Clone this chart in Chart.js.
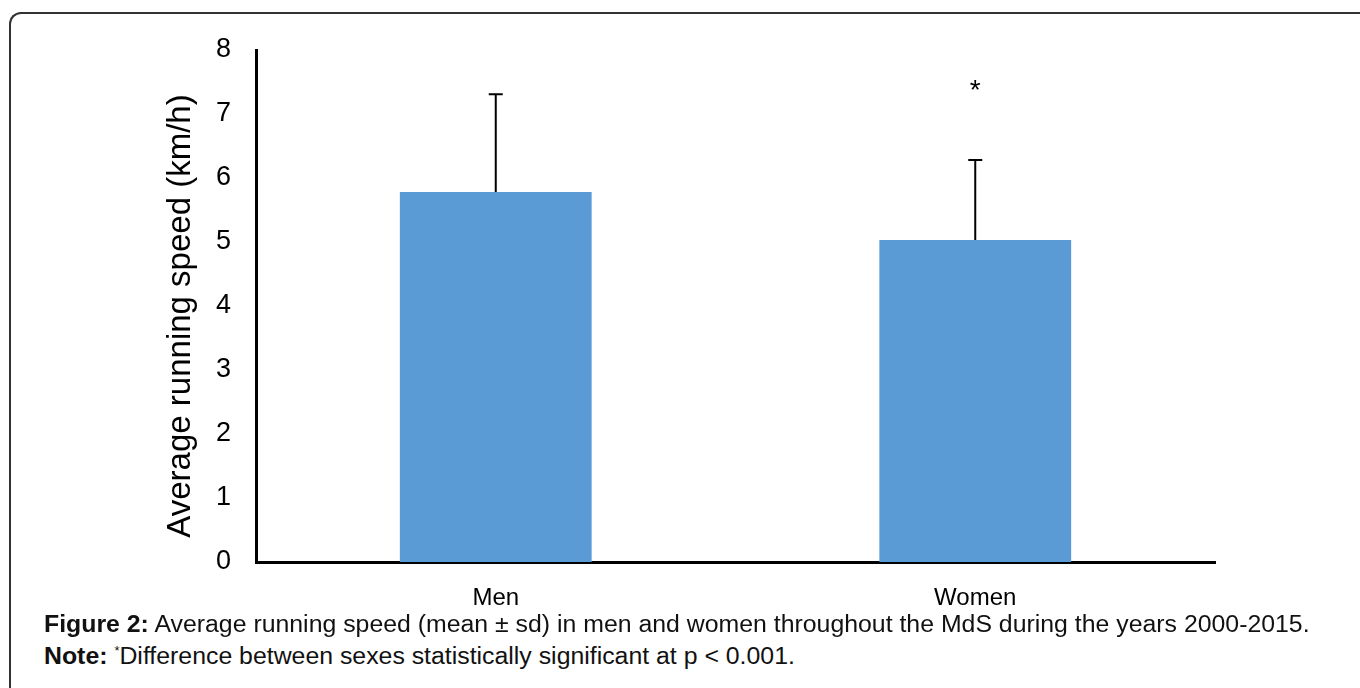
<!DOCTYPE html>
<html>
<head>
<meta charset="utf-8">
<script src="https://cdn.jsdelivr.net/npm/chart.js@4"></script>
<style>
  html, body { margin: 0; padding: 0; background: #fff; }
  body { width: 1360px; height: 688px; position: relative; overflow: hidden; font-family: "Liberation Sans", Arial, sans-serif; }
  #frame { position: absolute; left: 9px; top: 12px; width: 1500px; height: 900px;
           border-top: 2px solid #333; border-left: 2px solid #333; border-top-left-radius: 12px; }
  #wrap { position: absolute; left: 0; top: 0; width: 1360px; height: 612px; }
  .cap { position: absolute; left: 44px; font-size: 23px; line-height: 26px; color: #111; white-space: nowrap;
         transform: scaleX(1.08); transform-origin: left center; }
  .cap b { font-weight: bold; }
  sup { font-size: 12px; }
</style>
</head>
<body>
<div id="frame"></div>
<div id="wrap"><canvas id="myChart"></canvas></div>
<div class="cap" style="top:611px"><b>Figure 2:</b> Average running speed (mean ± sd) in men and women throughout the MdS during the years 2000-2015.</div>
<div class="cap" style="top:638px"><b>Note:</b> <sup>*</sup>Difference between sexes statistically significant at p &lt; 0.001.</div>
<script>
// Données
const categories = ["Men", "Women"];
const meanSpeed = [5.78, 5.03];
const sdSpeed = [1.53, 1.25];
const marks = ["", "*"];
const yTicks = [0, 1, 2, 3, 4, 5, 6, 7, 8];
const yTitle = 'Average running speed (km/h)';

// Barres d'erreur, astérisque et titre de l'axe Y
const errorBars = {
    id: 'errorBars',
    afterDatasetsDraw(chart) {
        const ctx = chart.ctx;
        const meta = chart.getDatasetMeta(0);
        const y = chart.scales.y;
        ctx.save();
        ctx.strokeStyle = '#000';
        ctx.lineWidth = 2;
        meta.data.forEach((bar, i) => {
            const top = y.getPixelForValue(meanSpeed[i] + sdSpeed[i]);
            const base = y.getPixelForValue(meanSpeed[i]);
            ctx.beginPath();
            ctx.moveTo(bar.x, base);
            ctx.lineTo(bar.x, top);
            ctx.moveTo(bar.x - 7, top);
            ctx.lineTo(bar.x + 7, top);
            ctx.stroke();
            if (marks[i]) {
                ctx.fillStyle = '#000';
                ctx.font = '28px "Liberation Sans", Arial, sans-serif';
                ctx.textAlign = 'center';
                ctx.textBaseline = 'middle';
                ctx.fillText(marks[i], bar.x, y.getPixelForValue(meanSpeed[i] + sdSpeed[i] + 1.2) + 8);
            }
        });
        // titre vertical, un peu sous le centre de l'axe
        ctx.translate(181, (chart.chartArea.top + chart.chartArea.bottom) / 2 + 10);
        ctx.rotate(-Math.PI / 2);
        ctx.fillStyle = '#000';
        ctx.font = '33px "Liberation Sans", Arial, sans-serif';
        ctx.textAlign = 'center';
        ctx.textBaseline = 'middle';
        ctx.fillText(yTitle, 0, 0);
        ctx.restore();
    }
};

const ctx = document.getElementById('myChart').getContext('2d');
const myChart = new Chart(ctx, {
    type: 'bar',
    data: {
        labels: categories,
        datasets: [{
            data: meanSpeed,
            backgroundColor: '#5B9BD5',
            borderWidth: 0,
            categoryPercentage: 1.0,
            barPercentage: 0.4
        }]
    },
    options: {
        responsive: true,
        maintainAspectRatio: false,
        animation: false,
        layout: { padding: { top: 50, right: 145, bottom: 0, left: 0 } },
        plugins: { legend: { display: false }, tooltip: { enabled: false } },
        scales: {
            x: {
                grid: { display: false },
                border: { display: true, color: '#000', width: 3 },
                ticks: { color: '#000', padding: 14, font: { family: '"Liberation Sans", Arial', size: 24 } },
                afterFit(scale) { scale.height = 50; }
            },
            y: {
                min: 0,
                max: 8,
                afterBuildTicks(scale) { scale.ticks = yTicks.map(v => ({ value: v })); },
                grid: { display: false },
                border: { display: true, color: '#000', width: 3 },
                ticks: { color: '#000', padding: 17, font: { family: '"Liberation Sans", Arial', size: 27 } },
                afterFit(scale) { scale.width = 256; }
            }
        }
    },
    plugins: [errorBars]
});
</script>
</body>
</html>
